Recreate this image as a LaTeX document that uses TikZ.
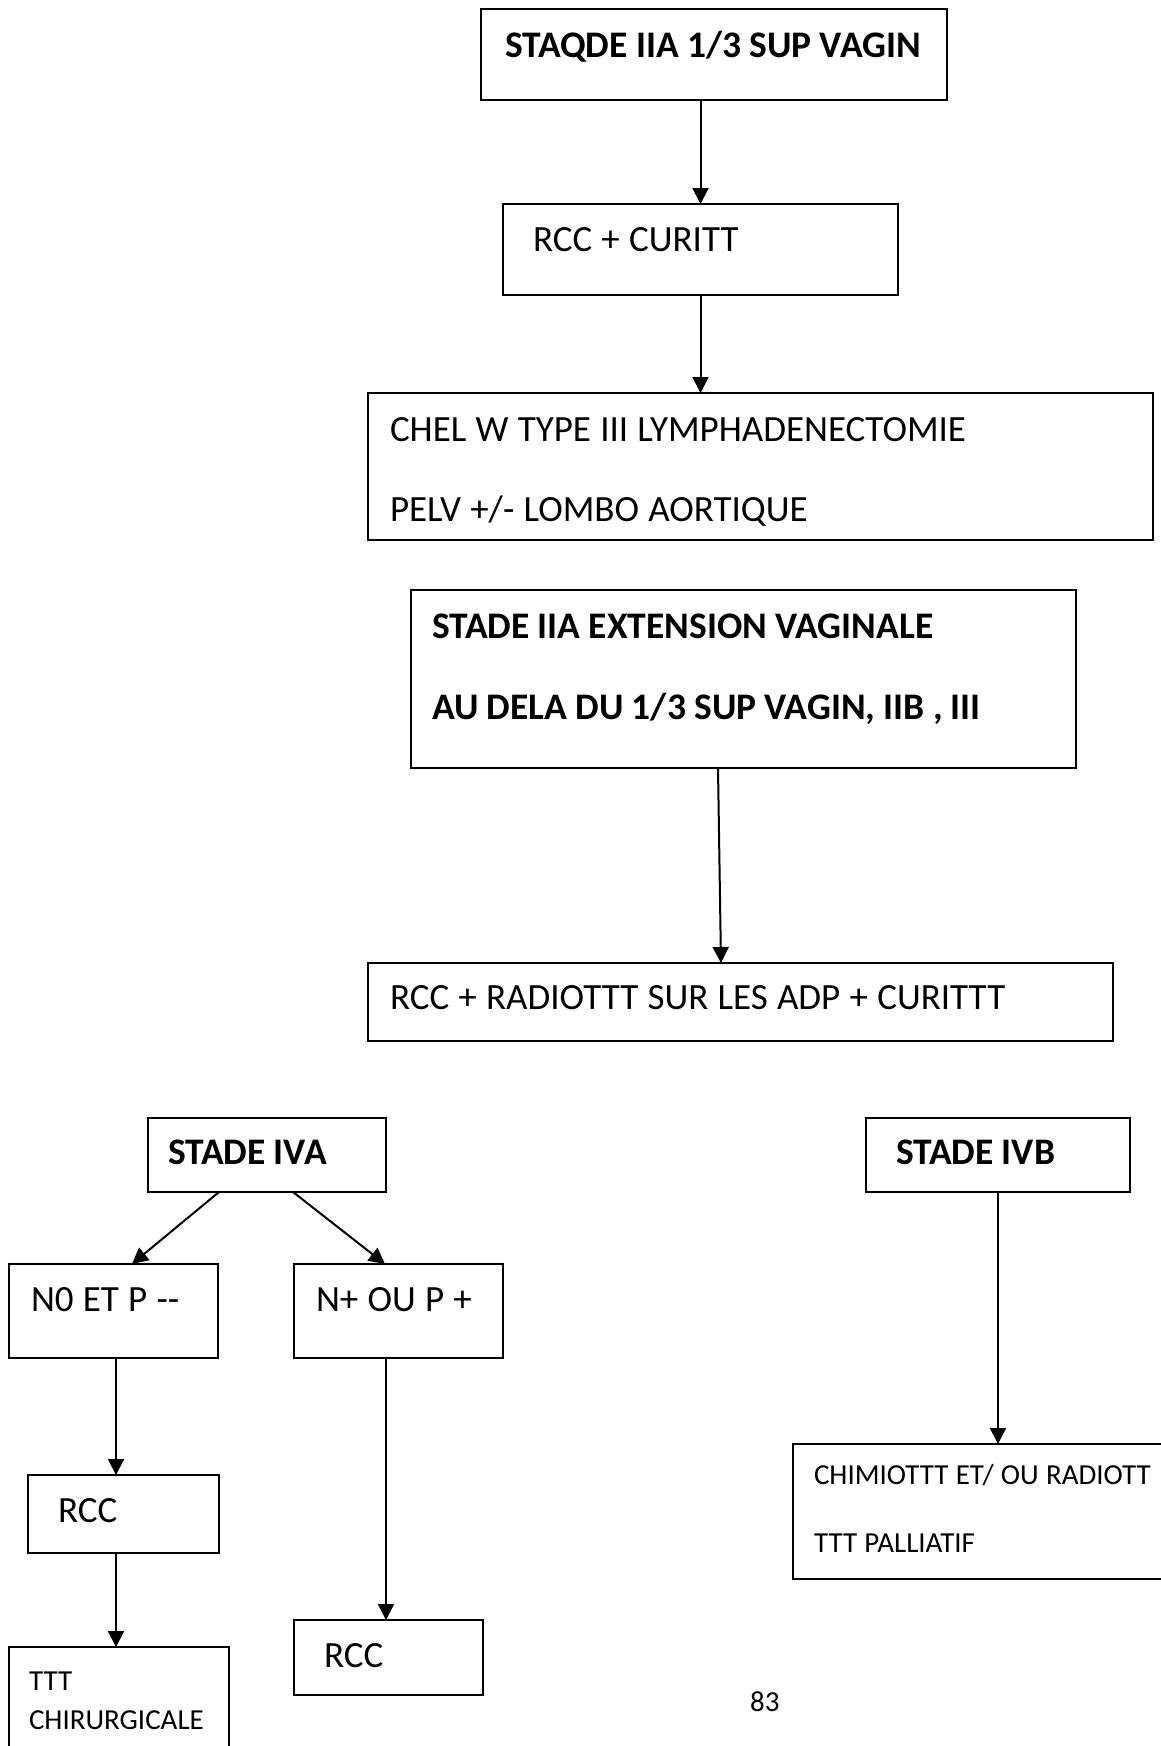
\documentclass[tikz,border=0pt]{standalone}
\usepackage{fontspec}
\setmainfont{Carlito}
\usetikzlibrary{arrows.meta}

\begin{document}
\begin{tikzpicture}[
    x=1pt, y=-1pt,
    box/.style={draw, line width=1.8pt, anchor=north west, align=left,
        inner ysep=0pt, outer sep=0pt, font=\fontsize{37}{80}\selectfont,
        execute at begin node={\spaceskip=0.25em\relax}},
    boldbox/.style={box, font=\fontsize{37.5}{81}\selectfont\bfseries,
        execute at begin node={\spaceskip=0.22em\relax}},
    smallbox/.style={box, font=\fontsize{29}{68}\selectfont},
    edge/.style={-{Triangle[width=16pt, length=16pt]}, line width=2pt}
]
\path[use as bounding box, clip] (0,0) rectangle (1161,1746);

% stade IIA, 1/3 superieur
\node[boldbox, text width=418pt, inner xsep=24pt, text height=48pt, text depth=43pt] (b1) at (481,9) {\mbox{STAQDE IIA 1/3 SUP VAGIN}};
\node[box, text width=335pt, inner xsep=30pt, text height=47pt, text depth=44pt] (b2) at (503,204) {RCC + CURITT};
\node[box, text width=741pt, inner xsep=22pt, text height=48pt, text depth=99pt] (b3) at (368,393) {CHEL W TYPE III LYMPHADENECTOMIE\\PELV +/- LOMBO AORTIQUE};

\draw[edge] (b1.south -| b2.north) -- (b2.north);
\draw[edge] (b2.south) -- (b2.south |- b3.north);

% stade IIA etendu, IIB, III
\node[boldbox, text width=623pt, inner xsep=21pt, text height=48pt, text depth=130pt] (b4) at (411,590) {STADE IIA EXTENSION VAGINALE\\AU DELA DU 1/3 SUP VAGIN, IIB , III};
\node[box, text width=701pt, inner xsep=22pt, text height=46pt, text depth=32pt] (b5) at (368,963) {RCC + RADIOTTT SUR LES ADP + CURITTT};

\draw[edge] ([xshift=307pt]b4.south west) -- ([xshift=353pt]b5.north west);

% stade IVA
\node[boldbox, text width=198pt, inner xsep=20pt, text height=46pt, text depth=28pt] (b6) at (148,1118) {STADE IVA};
\node[box, text width=165pt, inner xsep=22pt, text height=47pt, text depth=47pt] (b7) at (9,1264) {N0 ET P -{}-};
\node[box, text width=165pt, inner xsep=22pt, text height=47pt, text depth=47pt] (b8) at (294,1264) {N+ OU P +};
\node[box, text width=131pt, inner xsep=30pt, text height=47pt, text depth=31pt] (b9) at (28,1475) {RCC};
\node[smallbox, font=\fontsize{29}{39}\selectfont, text width=180pt, inner xsep=20pt, text height=43pt, text depth=107pt] (b10) at (9,1647) {TTT\\CHIRURGICALE};
\node[box, text width=129pt, inner xsep=30pt, text height=47pt, text depth=28pt] (b11) at (294,1620) {RCC};

\draw[edge] ([xshift=71pt]b6.south west) -- ([xshift=123pt]b7.north west);
\draw[edge] ([xshift=145pt]b6.south west) -- ([xshift=91pt]b8.north west);
\draw[edge] ([xshift=107pt]b7.south west) -- ([xshift=107pt]b7.south west |- b9.north);
\draw[edge] ([xshift=88pt]b9.south west) -- ([xshift=88pt]b9.south west |- b10.north);
\draw[edge] ([xshift=92pt]b8.south west) -- ([xshift=92pt]b8.south west |- b11.north);

% stade IVB
\node[boldbox, text width=204pt, inner xsep=30pt, text height=46pt, text depth=28pt] (b12) at (866,1118) {STADE IVB};
\node[smallbox, text width=408pt, inner xsep=21pt, text height=40pt, text depth=95pt] (b13) at (793,1444) {CHIMIOTTT ET/ OU RADIOTT\\TTT PALLIATIF};

\draw[edge] (b12.south) -- (b12.south |- b13.north);

\node[anchor=base west, inner sep=0pt, font=\fontsize{29}{35}\selectfont] (page) at (750,1711) {83};
\end{tikzpicture}
\end{document}
